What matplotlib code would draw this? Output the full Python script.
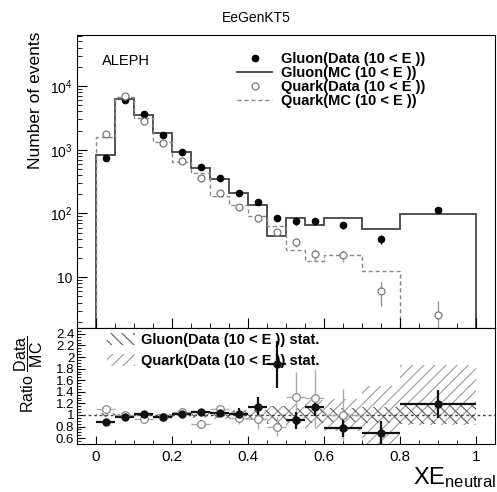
import numpy as np
import matplotlib
matplotlib.use("Agg")
import matplotlib.pyplot as plt
from matplotlib.lines import Line2D
from matplotlib.patches import Patch
from matplotlib.ticker import FixedLocator, FixedFormatter, MultipleLocator, LogLocator, NullFormatter

plt.rcParams["font.family"] = ["Liberation Sans", "DejaVu Sans"]
plt.rcParams["mathtext.fontset"] = "custom"
plt.rcParams["mathtext.rm"] = "Liberation Sans"
plt.rcParams["mathtext.it"] = "Liberation Sans:italic"
plt.rcParams["mathtext.bf"] = "Liberation Sans:bold"
plt.rcParams["hatch.linewidth"] = 0.8

# Binning in XE_neutral
bin_edges = [0.0, 0.05, 0.10, 0.15, 0.20, 0.25, 0.30, 0.35, 0.40, 0.45,
             0.50, 0.55, 0.60, 0.70, 0.80, 1.00]

# Upper panel: number of events
gluon_data = [736, 5960, 3630, 1715, 927, 532, 357, 212, 152, 84.5, 75, 75, 65.8, 40.2, 115.5]
gluon_data_err = [27, 77, 60, 41, 30, 23, 19, 15, 12, 9, 9, 9, 8, 6.5, 11]
gluon_mc = [822, 6300, 3540, 1800, 916, 525, 348, 207, 134, 44.8, 83.5, 66.6, 85.5, 56.9, 98.8]
quark_data = [1738, 6960, 2818, 1254, 676, 361, 210, 128, 83.5, 51, 35.6, 22.9, 22.3, 6.0, 2.6]
quark_data_err = [42, 83, 53, 35, 26, 19, 14.5, 11, 9, 7, 6, 4.8, 4.7, 2.45, 1.6]
quark_mc = [1577, 6790, 3180, 1300, 646, 428, 191, 136, 92, 63.4, 27, 18.2, 22.3, 12.4, 0]

# Lower panel: Data / MC
gluon_ratio = [0.886, 0.966, 1.023, 0.971, 1.011, 1.046, 1.029, 1.023, 1.143, 1.874,
               0.909, 1.137, 0.783, 0.697, 1.183]
gluon_ratio_err = [0.04, 0.02, 0.025, 0.035, 0.045, 0.06, 0.07, 0.09, 0.16, 0.40,
                   0.15, 0.15, 0.17, 0.20, 0.24]
quark_ratio = [1.109, 1.0, 0.937, 0.965, 1.05, 0.851, 1.097, 0.95, 0.926, 0.80,
               1.314, 1.286, 1.0, np.nan, np.nan]
quark_ratio_err = [0.04, 0.02, 0.03, 0.04, 0.05, 0.06, 0.08, 0.10, 0.17, 0.17,
                   0.43, 0.50, 0.45, np.nan, np.nan]

# Stat. bands around 1
gluon_band_lo = [0.97, 0.99, 0.98, 0.98, 0.97, 0.96, 0.95, 0.93, 0.91, 0.85, 0.88, 0.87, 0.88, 0.86, 0.84]
gluon_band_hi = [1.03, 1.01, 1.02, 1.02, 1.03, 1.04, 1.05, 1.07, 1.09, 1.15, 1.12, 1.13, 1.12, 1.14, 1.18]
quark_band_lo = [0.98, 0.99, 0.98, 0.97, 0.96, 0.95, 0.93, 0.91, 0.90, 0.85, 0.80, 0.75, 0.73, 0.50, 0.83]
quark_band_hi = [1.02, 1.01, 1.02, 1.03, 1.04, 1.05, 1.07, 1.09, 1.10, 1.15, 1.20, 1.25, 1.27, 1.50, 1.86]

edges = np.array(bin_edges)
centers = 0.5 * (edges[1:] + edges[:-1])
half_widths = 0.5 * (edges[1:] - edges[:-1])

fig = plt.figure(figsize=(4.97, 4.92), dpi=100)
ax = fig.add_axes([0.155, 0.3333, 0.841, 0.5956])
ax2 = fig.add_axes([0.155, 0.0976, 0.841, 0.2357])

# Upper panel
ax.stairs(gluon_mc, edges, baseline=1e-3, color="#444444", lw=1.3)
ax.stairs(quark_mc, edges, baseline=1e-3, color="#888888", lw=1.0, linestyle=(0, (3, 2)))
ax.errorbar(centers, gluon_data, yerr=gluon_data_err, fmt="o", color="black",
            ms=4.5, elinewidth=1.0, capsize=0)
ax.errorbar(centers, quark_data, yerr=quark_data_err, fmt="o", mfc="white", mec="#777777",
            ecolor="#999999", ms=5, mew=0.9, elinewidth=1.0, capsize=0)

ax.set_yscale("log")
ax.set_xlim(-0.05, 1.05)
ax.set_ylim(1.6, 6.3e4)
ax.yaxis.set_major_locator(FixedLocator([10, 100, 1000, 10000]))
ax.yaxis.set_major_formatter(FixedFormatter(["10", "$10^{2}$", "$10^{3}$", "$10^{4}$"]))
ax.yaxis.set_minor_locator(LogLocator(base=10, subs=np.arange(2, 10), numticks=20))
ax.yaxis.set_minor_formatter(NullFormatter())
ax.xaxis.set_major_locator(MultipleLocator(0.2))
ax.xaxis.set_minor_locator(MultipleLocator(0.05))
ax.tick_params(axis="x", labelbottom=False)
ax.tick_params(which="both", direction="in", labelsize=10)
ax.tick_params(which="major", length=7)
ax.tick_params(which="minor", length=3.5)
ax.set_ylabel("Number of events", fontsize=12.5, loc="top")
ax.yaxis.set_label_coords(-0.082, 1.01)

ax.text(0.06, 0.911, "ALEPH", transform=ax.transAxes, fontsize=10.5, va="center")

handles = [
    Line2D([], [], ls="none", marker="o", color="black", ms=4.5),
    Line2D([], [], color="#444444", lw=1.3),
    Line2D([], [], ls="none", marker="o", mfc="white", mec="#777777", ms=5, mew=0.9),
    Line2D([], [], color="#888888", lw=1.0, linestyle=(0, (3, 2))),
]
labels = ["Gluon(Data (10 < E ))", "Gluon(MC (10 < E ))",
          "Quark(Data (10 < E ))", "Quark(MC (10 < E ))"]
ax.legend(handles, labels, loc="upper left", bbox_to_anchor=(0.383, 0.942),
          frameon=False, borderpad=0, borderaxespad=0, handlelength=2.4,
          handletextpad=0.6, labelspacing=0.0,
          prop={"weight": "bold", "size": 10.5})

# Lower panel
ax2.fill_between(edges, quark_band_lo + [quark_band_lo[-1]], quark_band_hi + [quark_band_hi[-1]],
                 step="post", facecolor="none", edgecolor="#9a9a9a", hatch="///", lw=0)
ax2.fill_between(edges, gluon_band_lo + [gluon_band_lo[-1]], gluon_band_hi + [gluon_band_hi[-1]],
                 step="post", facecolor="none", edgecolor="#5a5a5a", hatch="\\\\\\", lw=0)
ax2.axhline(1.0, color="#444444", lw=1.0, linestyle=(0, (2, 2)))
ax2.errorbar(centers, quark_ratio, yerr=quark_ratio_err, xerr=half_widths, fmt="o",
             mfc="white", mec="#888888", ecolor="#aaaaaa", ms=5.5, mew=0.9,
             elinewidth=1.0, capsize=0)
ax2.errorbar(centers, gluon_ratio, yerr=gluon_ratio_err, xerr=half_widths, fmt="o",
             color="#111111", ms=5, elinewidth=1.6, capsize=0)

ax2.set_xlim(-0.05, 1.05)
ax2.set_ylim(0.5, 2.5)
ax2.xaxis.set_major_locator(FixedLocator([0, 0.2, 0.4, 0.6, 0.8, 1.0]))
ax2.xaxis.set_major_formatter(FixedFormatter(["0", "0.2", "0.4", "0.6", "0.8", "1"]))
ax2.xaxis.set_minor_locator(MultipleLocator(0.05))
ax2.yaxis.set_major_locator(FixedLocator([0.6, 0.8, 1.0, 1.2, 1.4, 1.6, 1.8, 2.0, 2.2, 2.4]))
ax2.yaxis.set_major_formatter(FixedFormatter(["0.6", "0.8", "1", "1.2", "1.4", "1.6",
                                              "1.8", "2", "2.2", "2.4"]))
ax2.yaxis.set_minor_locator(MultipleLocator(0.05))
ax2.tick_params(which="both", direction="in")
ax2.tick_params(axis="y", labelsize=9.5, pad=2)
ax2.tick_params(axis="x", labelsize=11, pad=4)
ax2.tick_params(which="major", length=6)
ax2.tick_params(which="minor", length=3)
ax2.set_ylabel(r"Ratio $\dfrac{\mathrm{Data}}{\mathrm{MC}}$", fontsize=11.5, loc="top")
ax2.yaxis.set_label_coords(-0.076, 0.94)

band_handles = [
    Patch(facecolor="none", edgecolor="#5a5a5a", hatch="\\\\\\", lw=0),
    Patch(facecolor="none", edgecolor="#9a9a9a", hatch="///", lw=0),
]
band_labels = ["Gluon(Data (10 < E )) stat.", "Quark(Data (10 < E )) stat."]
ax2.legend(band_handles, band_labels, loc="upper left", bbox_to_anchor=(0.072, 0.955),
           frameon=False, borderpad=0, borderaxespad=0, handlelength=1.9,
           handleheight=0.9, handletextpad=0.4, labelspacing=0.45,
           prop={"weight": "bold", "size": 10.5})

fig.text(0.998, 0.016, r"XE$_{\mathrm{neutral}}$", fontsize=17, ha="right", va="baseline")
fig.text(0.515, 0.963, "EeGenKT5", fontsize=10, ha="center", va="center")

fig.savefig("out.png", dpi=100)
